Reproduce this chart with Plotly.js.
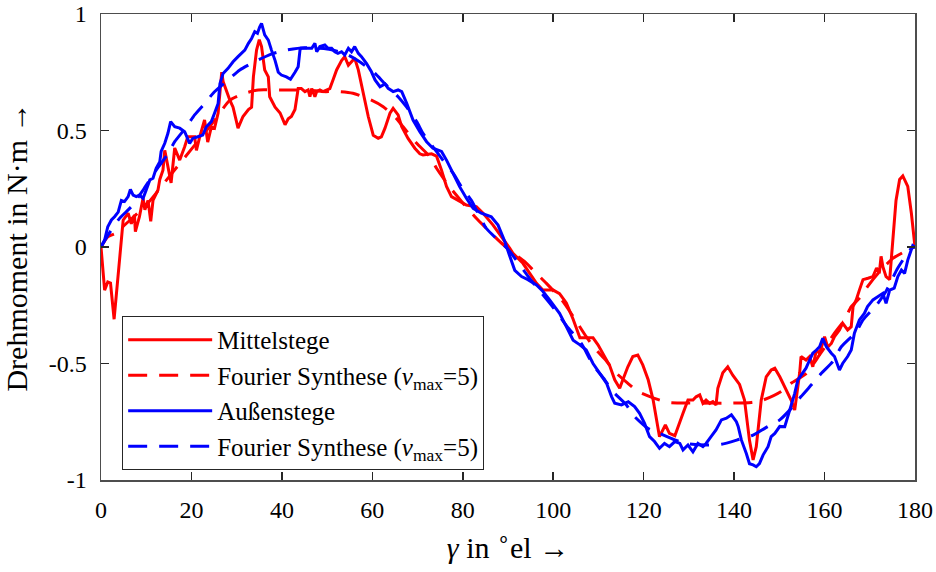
<!DOCTYPE html>
<html>
<head>
<meta charset="utf-8">
<script src="https://cdn.plot.ly/plotly-3.0.1.min.js"></script>
<style>html,body{margin:0;padding:0;background:#fff;}#chart{width:936px;height:572px;}</style>
</head>
<body>
<div id="chart"></div>
<script>
// Mittelstege (measured)
const gammaMittel = [0,0.8,1.5,2.1,2.9,3.8,4.9,6.0,6.7,7.4,7.6,8.5,9.3,9.7,10.4,11.0,11.5,12.6,13.0,13.7,14.1,14.8,15.5,16.3,17.4,18.5,19.2,20.7,21.1,21.8,22.9,23.6,24.4,25.1,25.9,26.7,27.0,28.5,29.2,30.3,31.4,32.6,33.3,33.7,34.4,35.0,35.5,36.2,37.0,37.3,38.5,39.6,40.7,41.4,42.1,42.9,43.6,44.3,45.1,45.8,46.2,46.6,47.3,47.7,48.4,49.1,49.9,50.6,51.3,52.1,53.2,53.9,54.7,55.4,56.1,56.9,58.0,59.1,60.2,61.3,62.0,62.8,63.9,64.6,65.7,66.5,67.9,69.4,70.5,71.2,73.1,74.2,75.3,76.4,77.5,79.3,80.8,83.0,84.5,86.7,88.9,90.4,91.1,93.3,96.3,97.7,100.0,101.4,102.9,104.4,105.9,107.3,108.8,109.9,111.0,112.5,113.6,114.7,115.4,116.5,117.6,118.7,119.8,121.0,122.1,122.8,123.5,124.8,125.7,126.9,127.6,128.7,129.8,130.9,131.6,132.4,133.1,133.8,134.6,135.3,136.0,136.4,137.5,138.6,139.7,141.2,142.3,143.4,144.2,144.9,146.0,147.1,148.2,149.0,150.1,151.5,152.6,153.4,154.5,154.8,155.9,156.7,157.4,158.2,158.9,160.0,160.7,161.5,162.2,163.3,164.0,165.1,165.9,166.3,167.0,167.7,168.5,169.6,170.7,171.5,172.1,172.5,172.9,173.6,174.4,175.1,175.8,176.6,177.3,178.4,179.2,180.0];
const momentMittel = [0,-0.185,-0.15,-0.155,-0.31,-0.11,0.115,0.145,0.10,0.137,0.066,0.13,0.21,0.16,0.20,0.11,0.20,0.245,0.29,0.33,0.415,0.345,0.275,0.425,0.373,0.43,0.473,0.473,0.415,0.47,0.545,0.45,0.515,0.51,0.575,0.75,0.71,0.63,0.60,0.51,0.56,0.59,0.60,0.73,0.845,0.89,0.86,0.76,0.73,0.645,0.60,0.575,0.525,0.55,0.56,0.59,0.68,0.68,0.667,0.674,0.645,0.68,0.645,0.667,0.674,0.667,0.674,0.68,0.717,0.76,0.80,0.817,0.78,0.795,0.81,0.76,0.66,0.56,0.48,0.467,0.473,0.51,0.574,0.595,0.567,0.516,0.466,0.424,0.40,0.395,0.40,0.39,0.33,0.26,0.216,0.195,0.18,0.173,0.145,0.094,0.037,-0.006,-0.027,-0.07,-0.156,-0.185,-0.185,-0.20,-0.24,-0.31,-0.39,-0.39,-0.39,-0.42,-0.456,-0.51,-0.57,-0.606,-0.57,-0.514,-0.47,-0.464,-0.506,-0.57,-0.657,-0.74,-0.814,-0.764,-0.80,-0.81,-0.77,-0.714,-0.657,-0.657,-0.643,-0.635,-0.671,-0.657,-0.671,-0.664,-0.678,-0.606,-0.54,-0.514,-0.55,-0.59,-0.657,-0.83,-0.914,-0.857,-0.657,-0.557,-0.528,-0.52,-0.557,-0.614,-0.657,-0.70,-0.54,-0.47,-0.485,-0.47,-0.514,-0.442,-0.456,-0.385,-0.43,-0.414,-0.385,-0.356,-0.327,-0.356,-0.342,-0.256,-0.227,-0.185,-0.14,-0.134,-0.127,-0.09,-0.113,-0.04,-0.085,-0.127,-0.14,0.03,0.20,0.29,0.305,0.26,0.145,0];

// Fourier synthesis Mittelstege
const gammaFourierMittel = [0,1.5,3.4,5,10,15,20,25,28.5,31.8,34.8,38.8,41.6,45.7,49.1,52.8,55.7,59.8,62.4,65.3,66.8,69.8,72.7,74.2,77,80.1,83.0,85.2,88.2,90.8,93.7,95.9,98.5,102,104.8,107.3,109.2,111.8,113.6,116.5,118.7,122.4,125.4,130,135,139.7,143.8,146.4,150.4,152.6,156.0,159,162.2,164.4,165.9,167.7,169.5,172,175.1,178.4,180];
const momentFourierMittel = [0,0.044,0.06,0.09,0.18,0.3,0.42,0.54,0.63,0.66,0.674,0.674,0.674,0.674,0.667,0.667,0.66,0.63,0.602,0.552,0.516,0.445,0.388,0.338,0.26,0.187,0.123,0.08,0.023,-0.02,-0.063,-0.106,-0.156,-0.23,-0.31,-0.385,-0.435,-0.49,-0.535,-0.585,-0.62,-0.65,-0.667,-0.67,-0.67,-0.67,-0.667,-0.657,-0.62,-0.585,-0.542,-0.46,-0.37,-0.313,-0.256,-0.22,-0.17,-0.11,-0.049,-0.013,0];

// Außenstege (measured)
const gammaAussen = [0,0.8,1.5,2.3,3.0,3.8,4.5,5.2,6.0,6.5,7.1,7.8,8.5,9.3,10.0,10.8,11.5,12.2,13.0,13.3,14.1,14.8,15.4,16.3,17.4,18.5,19.6,20.3,21.4,22.5,23.3,24.4,25.1,25.9,26.3,27.0,28.1,29.2,30.3,31.1,31.8,32.6,33.3,34.0,34.6,35.1,35.5,36.2,37.0,37.7,38.5,39.2,39.9,41.0,41.9,42.9,43.6,44.0,44.2,45.5,46.6,47.3,47.7,48.4,49.5,50.2,51.0,51.7,52.4,53.2,53.9,54.7,55.4,56.1,56.9,57.6,58.7,59.8,60.6,61.7,62.8,63.5,64.6,65.7,66.5,67.6,69.0,70.5,72.0,73.4,75.3,76.4,77.9,79.3,80.8,82.3,84.1,86.3,87.8,89.3,90.4,91.5,93.0,94.4,96.3,97.7,99.2,101.4,102.9,104.4,105.9,107.3,108.8,110.3,111.8,112.9,113.6,115.1,116.6,118.0,119.1,120.2,121.3,122.4,123.5,124.6,125.7,126.9,128.0,128.7,129.8,130.9,132.0,133.1,133.8,134.9,136.0,137.2,138.3,139.4,140.5,140.9,141.6,142.7,143.4,144.2,144.9,145.6,146.4,147.5,148.2,149.0,150.1,151.2,151.9,152.6,153.4,154.1,155.2,155.9,156.7,157.4,158.2,158.9,159.6,160.4,161.5,162.2,163.3,164.0,165.1,165.9,166.6,167.7,168.8,169.5,170.7,171.8,172.9,173.6,174.4,175.4,176.2,177.0,177.7,178.4,179.5,180.0];
const momentAussen = [0,0.03,0.087,0.116,0.13,0.15,0.20,0.195,0.216,0.247,0.223,0.216,0.223,0.209,0.245,0.288,0.295,0.338,0.366,0.41,0.445,0.488,0.538,0.516,0.51,0.495,0.445,0.466,0.473,0.48,0.516,0.538,0.574,0.616,0.70,0.745,0.767,0.795,0.817,0.83,0.845,0.874,0.895,0.924,0.917,0.945,0.96,0.91,0.888,0.845,0.80,0.75,0.738,0.73,0.72,0.75,0.774,0.845,0.853,0.853,0.853,0.874,0.838,0.86,0.867,0.853,0.853,0.838,0.831,0.838,0.824,0.853,0.838,0.86,0.831,0.817,0.788,0.752,0.717,0.688,0.70,0.681,0.667,0.674,0.667,0.617,0.545,0.495,0.452,0.424,0.41,0.373,0.316,0.259,0.209,0.166,0.145,0.13,0.094,0.023,-0.04,-0.10,-0.127,-0.14,-0.163,-0.19,-0.227,-0.285,-0.342,-0.40,-0.42,-0.442,-0.50,-0.542,-0.585,-0.642,-0.67,-0.678,-0.664,-0.685,-0.714,-0.757,-0.814,-0.835,-0.864,-0.843,-0.857,-0.835,-0.843,-0.871,-0.85,-0.879,-0.843,-0.857,-0.843,-0.814,-0.785,-0.742,-0.735,-0.72,-0.75,-0.77,-0.828,-0.886,-0.93,-0.935,-0.943,-0.93,-0.893,-0.857,-0.814,-0.80,-0.77,-0.771,-0.728,-0.685,-0.628,-0.57,-0.542,-0.52,-0.485,-0.456,-0.442,-0.428,-0.392,-0.428,-0.456,-0.47,-0.528,-0.50,-0.47,-0.442,-0.37,-0.313,-0.285,-0.256,-0.227,-0.213,-0.199,-0.242,-0.185,-0.177,-0.127,-0.099,-0.113,-0.056,0.006,0];

// Fourier synthesis Außenstege
const gammaFourierAussen = [0,1.5,4.1,6.7,9.5,12.2,14.8,16.3,18.9,20.7,23.3,24.8,28.1,30.7,34.0,37.5,41.0,45,50,54,57.2,60.6,62.8,65.7,67.6,69.8,71.2,73.4,75.6,77.9,79.7,81.9,83.5,85.2,87.8,90,95,100,103,106.2,108.8,111.4,113.2,116.2,117.6,120.9,123.5,126.9,130,134,137.2,141.2,144.2,147.5,150.1,153.0,154.8,157.4,159.3,161.8,163.7,167.0,168.5,171.5,173.6,176.2,179.2,180];
const momentFourierAussen = [0,0.05,0.123,0.173,0.25,0.33,0.40,0.452,0.516,0.567,0.624,0.66,0.717,0.76,0.795,0.827,0.845,0.855,0.85,0.83,0.795,0.745,0.70,0.645,0.60,0.538,0.488,0.43,0.373,0.316,0.259,0.20,0.14,0.08,0.03,-0.01,-0.14,-0.26,-0.34,-0.413,-0.506,-0.57,-0.62,-0.678,-0.72,-0.778,-0.80,-0.828,-0.845,-0.85,-0.847,-0.825,-0.807,-0.77,-0.742,-0.685,-0.642,-0.585,-0.542,-0.492,-0.428,-0.364,-0.313,-0.249,-0.19,-0.09,-0.006,0];

const yTickVals = [-1,-0.5,0,0.5,1];
const yTickText = ['-1','-0.5','0','0.5','1'];
const xTickVals = [0,20,40,60,80,100,120,140,160,180];

const seriesNames = ['Mittelstege','Fourier Synthese (<i>ν</i><sub>max</sub>=5)','Außenstege','Fourier Synthese (<i>ν</i><sub>max</sub>=5)'];

const RED = '#ff0000', BLUE = '#0000ff';
const DASH = '19px,12px';
const traces = [
  {x: gammaMittel, y: momentMittel, name: seriesNames[0], mode: 'lines', line: {color: RED, width: 3}},
  {x: gammaFourierMittel, y: momentFourierMittel, name: seriesNames[1], mode: 'lines', line: {color: RED, width: 3, dash: DASH, shape: 'spline', smoothing: 0.6}},
  {x: gammaAussen, y: momentAussen, name: seriesNames[2], mode: 'lines', line: {color: BLUE, width: 3}},
  {x: gammaFourierAussen, y: momentFourierAussen, name: seriesNames[3], mode: 'lines', line: {color: BLUE, width: 3, dash: DASH, shape: 'spline', smoothing: 0.6}}
];

const FONT = '"Liberation Serif", "Times New Roman", serif';
const layout = {
  width: 936, height: 572,
  margin: {l: 101, r: 21, t: 14, b: 92},
  paper_bgcolor: '#fff', plot_bgcolor: '#fff',
  font: {family: FONT, size: 24, color: '#000'},
  showlegend: true,
  legend: {
    x: 0.026, y: 0.352, xanchor: 'left', yanchor: 'top',
    bgcolor: '#fff', bordercolor: '#262626', borderwidth: 1,
    font: {family: FONT, size: 25, color: '#000'},
    itemwidth: 84, tracegroupgap: 0
  },
  xaxis: {
    range: [0, 180], tickvals: xTickVals, ticks: 'inside', ticklen: 8, tickwidth: 1.5, tickcolor: '#262626',
    showline: true, linecolor: '#4d4d4d', linewidth: 1.5, mirror: 'ticks', showgrid: false, zeroline: false,
    ticklabelstandoff: 8,
    tickfont: {family: FONT, size: 24, color: '#000'},
    title: {text: '<i>γ</i> in <sup>∘</sup>el →', font: {family: FONT, size: 30, color: '#000'}, standoff: 14}
  },
  yaxis: {
    range: [-1, 1], tickvals: yTickVals, ticktext: yTickText, ticks: 'inside', ticklen: 8, tickwidth: 1.5, tickcolor: '#262626',
    showline: true, linecolor: '#4d4d4d', linewidth: 1.5, mirror: 'ticks', showgrid: false, zeroline: false,
    ticklabelstandoff: 8,
    tickfont: {family: FONT, size: 24, color: '#000'},
    title: {text: 'Drehmoment in N·m →', font: {family: FONT, size: 30, color: '#000'}, standoff: 12}
  }
};

Plotly.newPlot('chart', traces, layout, {displayModeBar: false, staticPlot: true});
</script>
</body>
</html>
